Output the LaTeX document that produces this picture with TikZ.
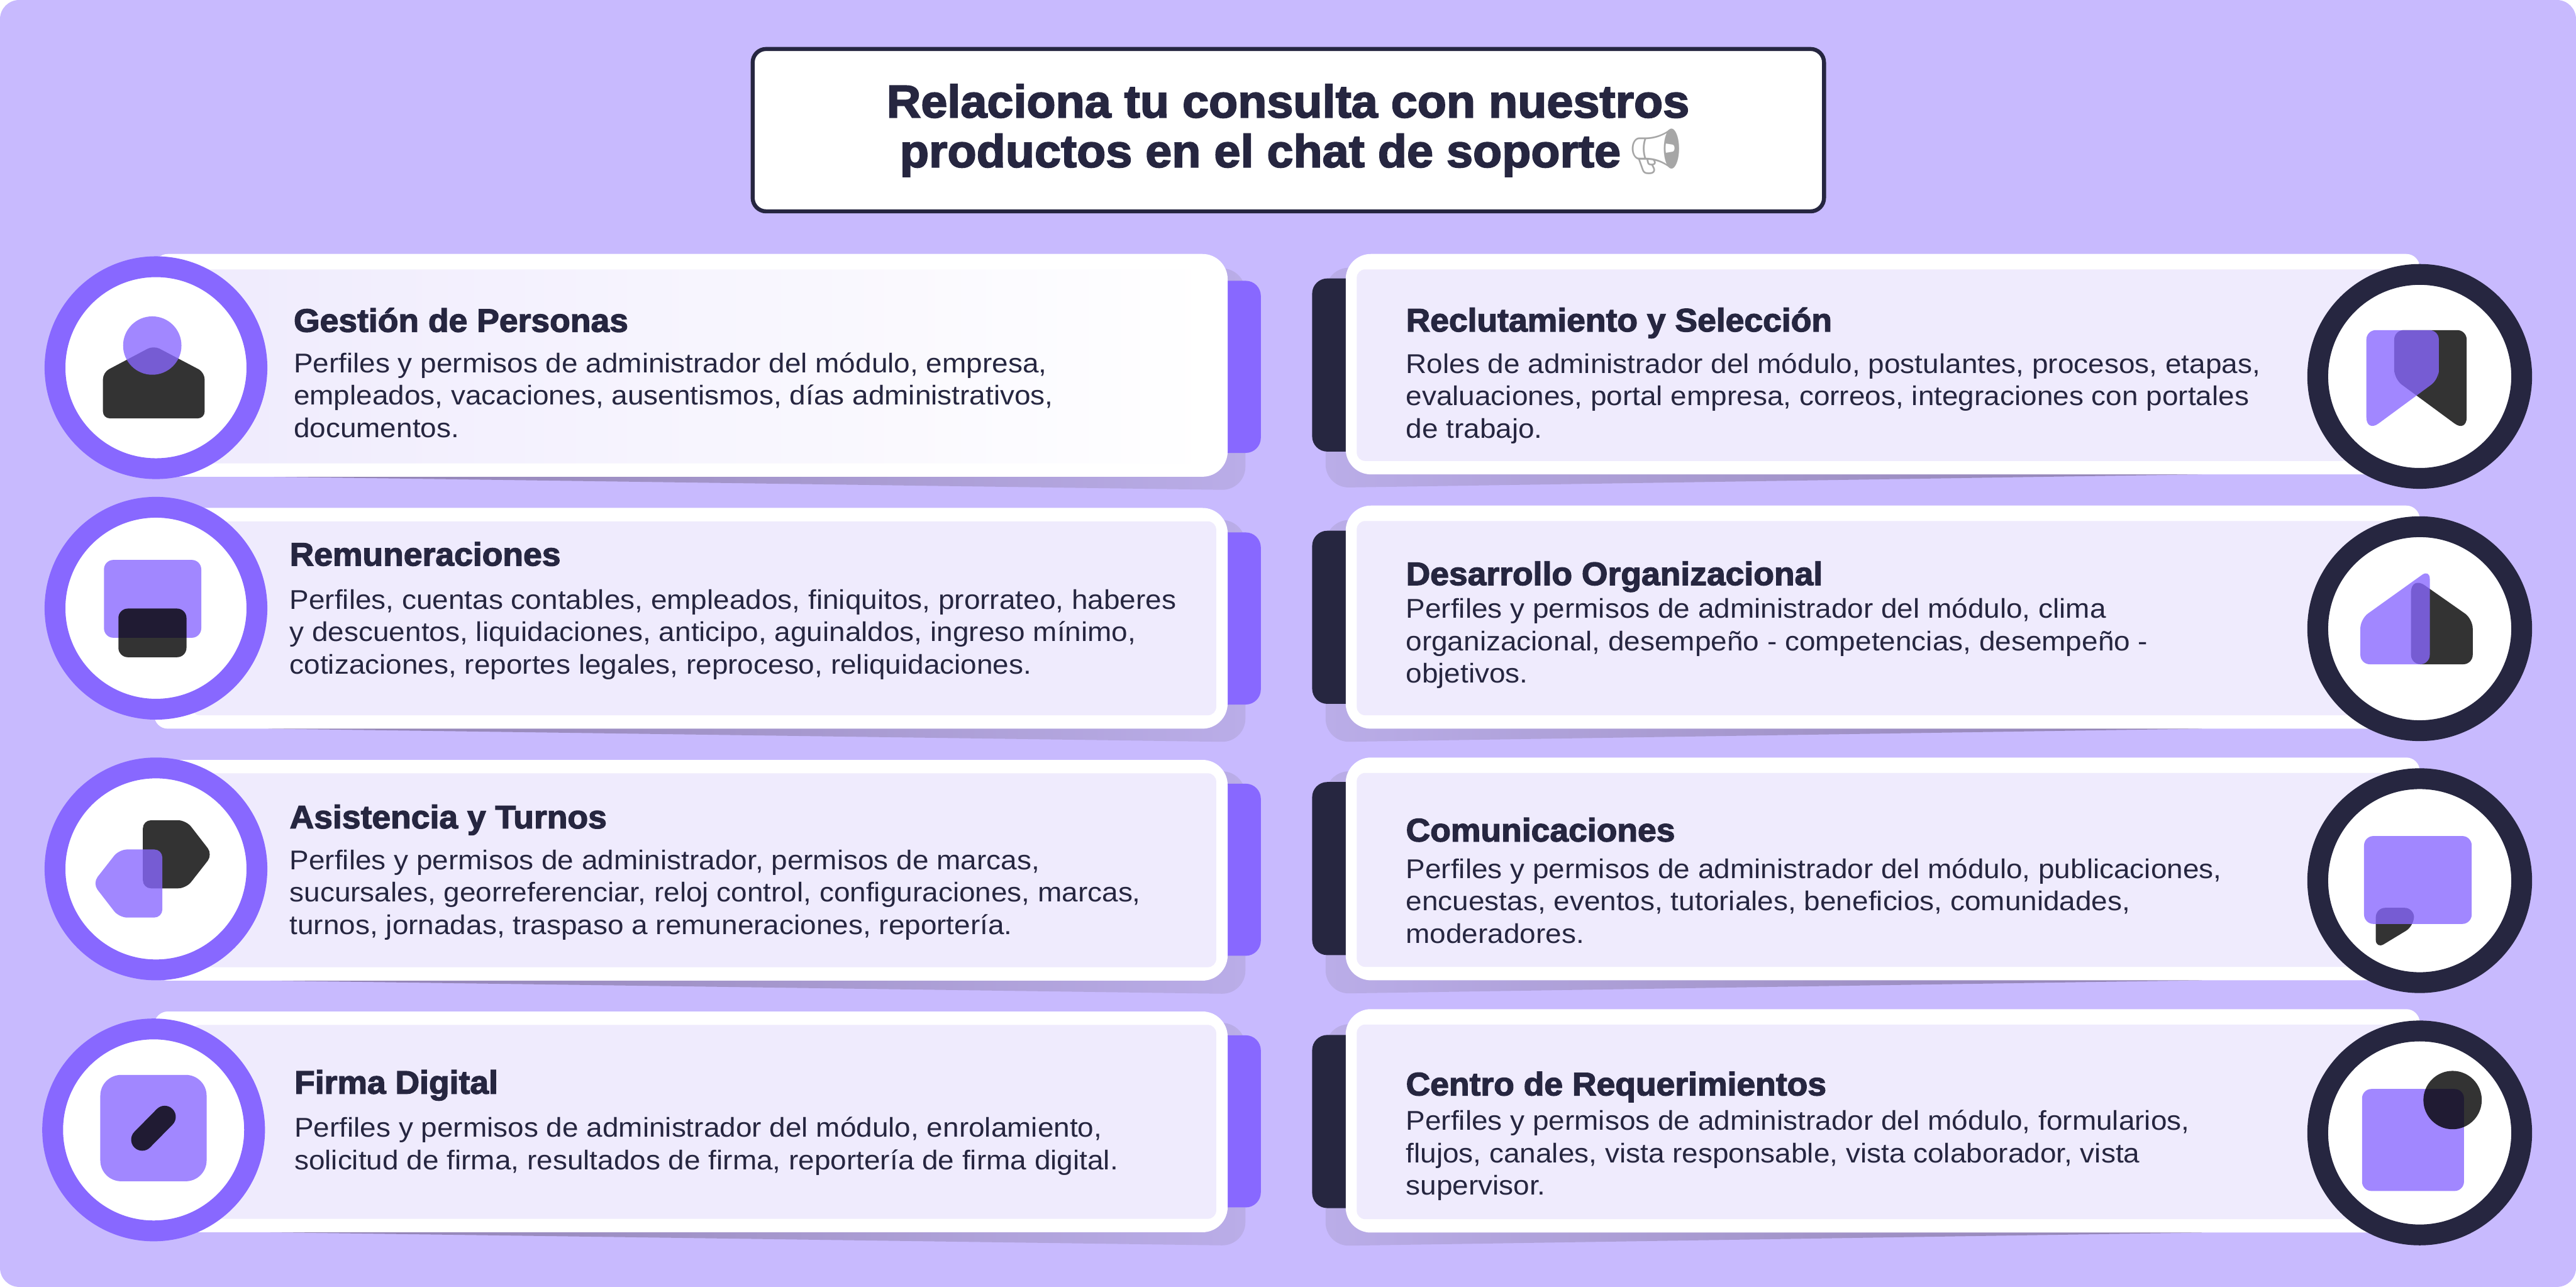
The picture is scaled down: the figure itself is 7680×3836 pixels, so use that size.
\documentclass[tikz,border=0pt]{standalone}
\usepackage{fontspec}
\setmainfont{Liberation Sans}[FakeStretch=1.065]
\newfontfamily\headfont{Liberation Sans}[FakeStretch=1.033,BoldFont={Liberation Sans Bold},BoldFeatures={FakeStretch=1.033,FakeBold=2.6}]
\newfontfamily\emojifont{Noto Emoji}
\usepackage{xcolor}
\usepackage{tikz}
\definecolor{pagebg}{HTML}{C8BAFE}
\definecolor{ink}{HTML}{262640}
\definecolor{violet}{HTML}{8868FF}
\definecolor{cardfill}{HTML}{EFEBFD}
\definecolor{shadowflat}{HTML}{BAADE8}
\definecolor{shadowdark}{HTML}{8F80B0}
\tikzset{
	cardwhite/.style = {fill = white},
	cardinner/.style = {fill = cardfill, rounded corners = .25cm},
	leftshadow/.style = {left color = shadowdark, right color = shadowflat},
	rightshadow/.style = {left color = shadowflat, right color = shadowdark},
	ringleft/.style = {draw = violet, fill = white, line width = .62cm},
	ringright/.style = {draw = ink, fill = white, line width = .62cm},
	iconlight/.style = {fill = violet, fill opacity = .79, rounded corners = .28cm},
	icondark/.style = {fill = black, fill opacity = .8, rounded corners = .28cm},
	cardtitle/.style = {anchor = base west, inner sep = 0pt, text = ink, font = \headfont\bfseries\fontsize{27.6}{30}\selectfont},
	cardbody/.style = {anchor = north west, inner sep = 0pt, align = left, text = ink, yshift = -.1cm, font = \fontsize{23}{27.45}\selectfont, execute at begin node = \rule{0pt}{22.2pt}},
}
% top, bottom, top of the tab
\newcommand{\leftcard}[3]{
	\shade[leftshadow] (800,#2) [rounded corners = .7cm] -- (3713,#2+40) -- (3713,#3-37) [sharp corners] -- (3000,#3-37) -- cycle;
	\fill[violet, rounded corners = .45cm] (3500,#3) rectangle (3759,#3+513);
	\fill[cardwhite] (460,#1+300) [rounded corners = .4cm] -- (460,#1) [rounded corners = .75cm] -- (3660,#1) -- (3660,#2) [rounded corners = .4cm] -- (460,#2) -- cycle;
}
\newcommand{\rightcard}[3]{
	\shade[rightshadow] (6565,#2) [rounded corners = .7cm] -- (3952,#2+40) -- (3952,#3-32) [sharp corners] -- (4500,#3-32) -- cycle;
	\fill[ink, rounded corners = .45cm] (3912,#3) rectangle (4200,#3+516);
	\fill[cardwhite] (7214,#1+300) [rounded corners = .4cm] -- (7214,#1) [rounded corners = .75cm] -- (4012,#1) -- (4012,#2) [rounded corners = .4cm] -- (7214,#2) -- cycle;
	\fill[cardinner] (4045,#1+46) rectangle (7130,#2-40);
}
\begin{document}
\begin{tikzpicture}[x = .01cm, y = -.01cm]
	\useasboundingbox (0,0) rectangle (7680,3836);
	\fill[pagebg, rounded corners = .57cm] (0,0) rectangle (7680,3836);

	% header
	\draw[ink, fill = white, line width = .12cm, rounded corners = .4cm] (2244,146) rectangle (5438,630);
	\node[anchor = north, inner sep = 0pt, align = center, text = ink, font = \headfont\bfseries\fontsize{39}{42.1}\selectfont, execute at begin node = \rule{0pt}{30pt}] (headertext) at (3840,250)
		{Relaciona tu consulta con nuestros\\\hspace*{7pt}productos en el chat de soporte\hspace{-5.5pt} {\emojifont\color{gray!70}\fontsize{38}{42.1}\selectfont\mdseries 📢}};

	% left column
	\leftcard{757}{1421}{837}
	\leftcard{1514}{2172}{1587}
	\leftcard{2265}{2923}{2336}
	\leftcard{3015}{3673}{3086}
	\shade[left color = cardfill, middle color = cardfill, right color = white, rounded corners = .25cm] (570,803) rectangle (3626,1381);
	\fill[cardinner] (570,1554) rectangle (3626,2132);
	\fill[cardinner] (570,2305) rectangle (3626,2883);
	\fill[cardinner] (570,3055) rectangle (3626,3633);

	% right column
	\rightcard{757}{1414}{830}
	\rightcard{1507}{2172}{1582}
	\rightcard{2258}{2922}{2331}
	\rightcard{3008}{3674}{3085}

	% rings
	\draw[ringleft] (465,1096) circle (301);
	\draw[ringleft] (465,1813) circle (301);
	\draw[ringleft] (465,2590) circle (301);
	\draw[ringleft] (458,3368) circle (301);
	\draw[ringright] (7214,1122) circle (304);
	\draw[ringright] (7214,1874) circle (304);
	\draw[ringright] (7214,2625) circle (304);
	\draw[ringright] (7214,3377) circle (304);

	% icons
	\fill[icondark, rounded corners = .2cm] (307,1247) -- (307,1110) -- (458,1030) -- (610,1110) -- (610,1247) -- cycle;
	\fill[violet, fill opacity = .79] (454,1030) circle (87);

	\fill[iconlight] (310,1669) rectangle (600,1901);
	\fill[icondark] (353,1814) rectangle (556,1959);

	\fill[icondark, rounded corners = .24cm] (426,2445) -- (555,2445) -- (634,2547) -- (555,2648) -- (426,2648) -- cycle;
	\fill[iconlight, rounded corners = .24cm] (484,2532) -- (355,2532) -- (276,2633) -- (355,2735) -- (484,2735) -- cycle;

	\fill[iconlight, rounded corners = .62cm] (299,3204) rectangle (616,3521);
	\draw[black, draw opacity = .8, line width = .66cm, line cap = round] (491,3329) -- (424,3397);

	\fill[icondark] (7138,1100) -- (7138,984) -- (7354,984) [rounded corners = .45cm] -- (7354,1289) [rounded corners = .28cm] -- (7138,1130) -- cycle;
	\fill[iconlight] (7271,1100) -- (7271,984) -- (7055,984) [rounded corners = .45cm] -- (7055,1289) [rounded corners = .28cm] -- (7271,1130) -- cycle;

	\fill[icondark] (7188,1980) [rounded corners = .5cm] -- (7188,1716) [rounded corners = .28cm] -- (7372,1845) -- (7372,1980) -- cycle;
	\fill[iconlight] (7037,1980) -- (7037,1845) -- (7244,1697) -- (7244,1980) -- cycle;

	\fill[icondark] (7083,2706) -- (7197,2706) -- (7197,2760) -- (7083,2829) -- cycle;
	\fill[iconlight] (7048,2492) rectangle (7369,2754);

	\fill[iconlight] (7042,3246) rectangle (7346,3550);
	\fill[black, fill opacity = .8] (7312,3279) circle (87);

	% left texts
	\node[cardtitle] (personastitle) at (875,989) {Gestión de Personas};
	\node[cardbody] (personasbody) at (875,1040) {Perfiles y permisos de administrador del módulo, empresa,\\empleados, vacaciones, ausentismos, días administrativos,\\documentos.};
	\node[cardtitle] (remuneracionestitle) at (863,1686) {Remuneraciones};
	\node[cardbody] (remuneracionesbody) at (863,1746) {Perfiles, cuentas contables, empleados, finiquitos, prorrateo, haberes\\y descuentos, liquidaciones, anticipo, aguinaldos, ingreso mínimo,\\cotizaciones, reportes legales, reproceso, reliquidaciones.};
	\node[cardtitle] (asistenciatitle) at (863,2469) {Asistencia y Turnos};
	\node[cardbody] (asistenciabody) at (863,2522) {Perfiles y permisos de administrador, permisos de marcas,\\sucursales, georreferenciar, reloj control, configuraciones, marcas,\\turnos, jornadas, traspaso a remuneraciones, reportería.};
	\node[cardtitle] (firmatitle) at (877,3260) {Firma Digital};
	\node[cardbody] (firmabody) at (877,3319) {Perfiles y permisos de administrador del módulo, enrolamiento,\\solicitud de firma, resultados de firma, reportería de firma digital.};

	% right texts
	\node[cardtitle] (reclutamientotitle) at (4191,988) {Reclutamiento y Selección};
	\node[cardbody] (reclutamientobody) at (4191,1042) {Roles de administrador del módulo, postulantes, procesos, etapas,\\evaluaciones, portal empresa, correos, integraciones con portales\\de trabajo.};
	\node[cardtitle] (desarrollotitle) at (4191,1744) {Desarrollo Organizacional};
	\node[cardbody] (desarrollobody) at (4191,1772) {Perfiles y permisos de administrador del módulo, clima\\organizacional, desempeño - competencias, desempeño -\\objetivos.};
	\node[cardtitle] (comunicacionestitle) at (4191,2508) {Comunicaciones};
	\node[cardbody] (comunicacionesbody) at (4191,2548) {Perfiles y permisos de administrador del módulo, publicaciones,\\encuestas, eventos, tutoriales, beneficios, comunidades,\\moderadores.};
	\node[cardtitle] (centrotitle) at (4191,3265) {Centro de Requerimientos};
	\node[cardbody] (centrobody) at (4191,3299) {Perfiles y permisos de administrador del módulo, formularios,\\flujos, canales, vista responsable, vista colaborador, vista\\supervisor.};
\end{tikzpicture}
\end{document}
